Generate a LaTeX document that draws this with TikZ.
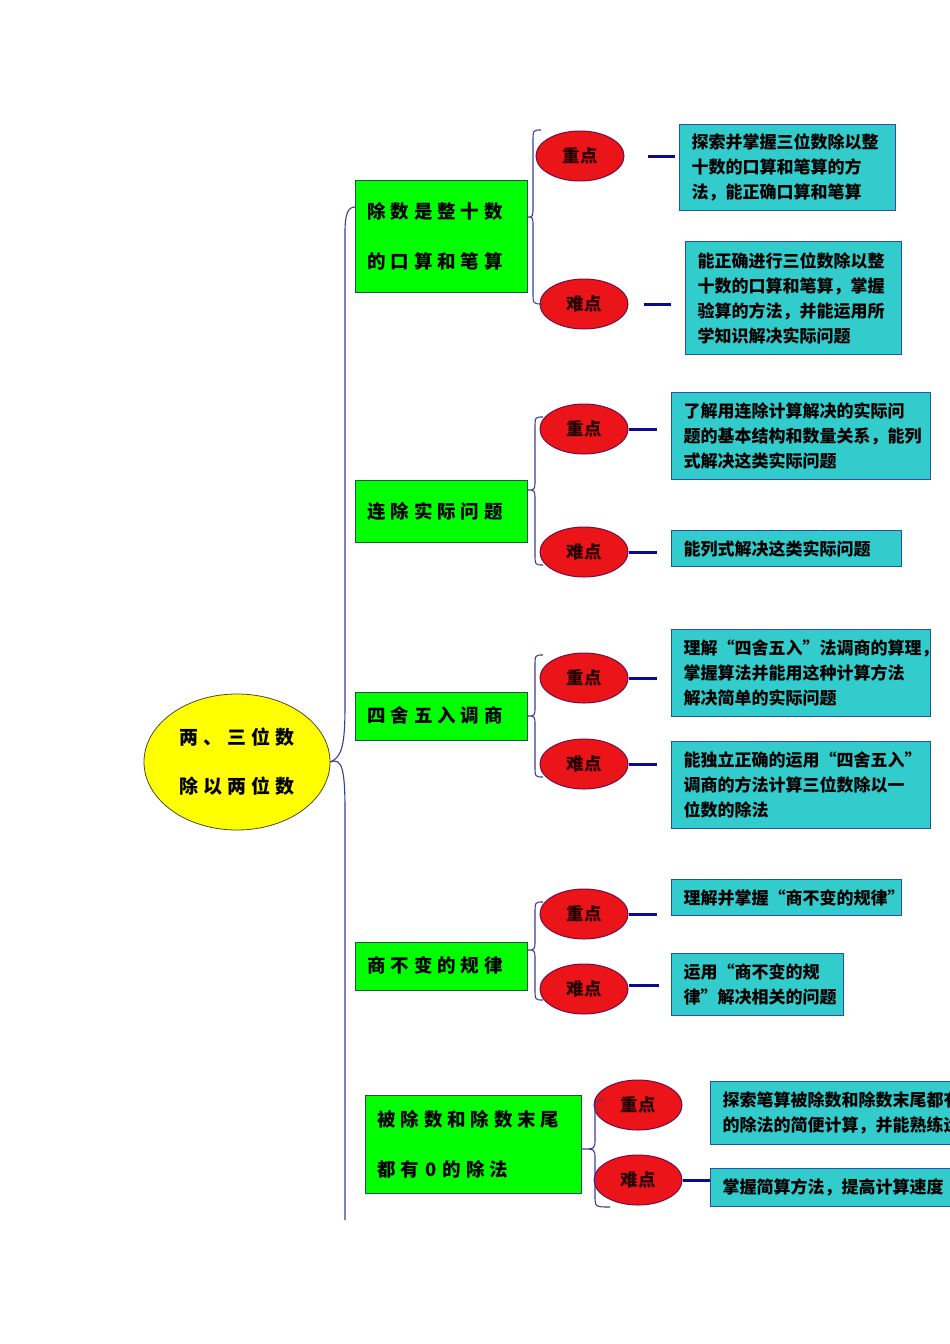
\documentclass[tikz,border=0pt]{standalone}
\usepackage{fontspec}
\setmainfont{Noto Sans CJK SC}
\newfontfamily\spaced{Noto Sans CJK SC}[LetterSpace=26]
\usetikzlibrary{shapes.geometric,calc}
\definecolor{cyanbox}{RGB}{51,204,204}
\definecolor{cyanborder}{RGB}{40,80,170}
\definecolor{greenbox}{RGB}{0,255,0}
\definecolor{greenborder}{RGB}{25,85,70}
\definecolor{redfill}{RGB}{235,20,25}
\definecolor{redborder}{RGB}{120,10,70}
\definecolor{rootfill}{RGB}{255,255,0}
\definecolor{linkblue}{RGB}{10,10,150}
\definecolor{bracecol}{RGB}{60,60,150}
\newcommand\brc[4]{% #1 top, #2 tip, #3 bottom, #4 vertical-x coordinate
  \draw[bracestyle] (#1) .. controls (#1 -| #4) .. ($(#1 -| #4)+(0,12)$)
    -- ($(#2 -| #4)+(0,-10)$) .. controls (#2 -| #4) .. (#2)
    .. controls (#2 -| #4) .. ($(#2 -| #4)+(0,10)$)
    -- ($(#3 -| #4)+(0,-12)$) .. controls (#3 -| #4) .. (#3);}
\begin{document}
\begin{tikzpicture}[x=1pt,y=-1pt,
  rootnode/.style={ellipse, draw=black!60!olive, line width=0.8pt, fill=rootfill,
    minimum width=186pt, minimum height=136pt, inner sep=0pt, align=center,
    font=\spaced\fontsize{19}{49}\selectfont\bfseries},
  gbox/.style={rectangle, draw=greenborder, line width=1pt, fill=greenbox, anchor=north west,
    inner xsep=12pt, inner ysep=0pt, align=left,
    font=\spaced\fontsize{18.5}{50}\selectfont\bfseries},
  ell/.style={ellipse, draw=redborder, line width=1pt, fill=redfill, minimum width=88pt,
    minimum height=50pt, inner sep=0pt, text=black!85!red,
    font=\fontsize{17.5}{20}\selectfont\bfseries},
  cbox/.style={rectangle, draw=cyanborder, line width=1.2pt, fill=cyanbox, anchor=north west,
    inner xsep=12pt, inner ysep=0pt, align=left,
    font=\fontsize{17}{25}\selectfont\bfseries},
  link/.style={draw=linkblue, line width=3pt},
  bracestyle/.style={draw=bracecol, line width=1.1pt}]
\clip (0,0) rectangle (950,1344);
\fill[white] (0,0) rectangle (950,1344);

% root
\node[rootnode] (root) at (237,762) {两、三位数\\除以两位数};

% green boxes
\node[gbox, minimum width=172pt, minimum height=112pt, text width=148pt] (g1) at (355,180) {除数是整十数\\的口算和笔算};
\node[gbox, minimum width=172pt, minimum height=62pt, text width=148pt] (g2) at (355,480) {连除实际问题};
\node[gbox, minimum width=172pt, minimum height=48pt, text width=148pt, text depth=4pt] (g3) at (355,692) {四舍五入调商};
\node[gbox, minimum width=172pt, minimum height=48pt, text width=148pt, text depth=4pt] (g4) at (355,942) {商不变的规律};
\node[gbox, minimum width=216pt, minimum height=98pt, text width=192pt] (g5) at (365,1095) {被除数和除数末尾\\都有 0 的除法};

% red ellipses
\node[ell] (e1a) at (580,156) {重点};
\node[ell] (e1b) at (584,304) {难点};
\node[ell] (e2a) at (584,429) {重点};
\node[ell] (e2b) at (584,552) {难点};
\node[ell] (e3a) at (584,678) {重点};
\node[ell] (e3b) at (584,764) {难点};
\node[ell] (e4a) at (584,914) {重点};
\node[ell] (e4b) at (584,989) {难点};
\node[ell] (e5a) at (638,1105) {重点};
\node[ell] (e5b) at (638,1180) {难点};

% cyan boxes
\node[cbox, minimum width=216pt, minimum height=86pt, text width=192pt] (c1a) at (679,124) {探索并掌握三位数除以整\\十数的口算和笔算的方\\法，能正确口算和笔算};
\node[cbox, minimum width=216pt, minimum height=113pt, text width=192pt] (c1b) at (685,241) {能正确进行三位数除以整\\十数的口算和笔算，掌握\\验算的方法，并能运用所\\学知识解决实际问题};
\node[cbox, minimum width=259pt, minimum height=87pt, text width=235pt] (c2a) at (671,392) {了解用连除计算解决的实际问\\题的基本结构和数量关系，能列\\式解决这类实际问题};
\node[cbox, minimum width=230pt, minimum height=36pt, text width=206pt] (c2b) at (671,530) {能列式解决这类实际问题};
\node[cbox, minimum width=259pt, minimum height=87pt, text width=235pt] (c3a) at (671,629) {理解“四舍五入”法调商的算理，\\掌握算法并能用这种计算方法\\解决简单的实际问题};
\node[cbox, minimum width=259pt, minimum height=87pt, text width=235pt] (c3b) at (671,741) {能独立正确的运用“四舍五入”\\调商的方法计算三位数除以一\\位数的除法};
\node[cbox, minimum width=230pt, minimum height=36pt, text width=206pt] (c4a) at (671,879) {理解并掌握“商不变的规律”};
\node[cbox, minimum width=172pt, minimum height=62pt, text width=148pt] (c4b) at (671,953) {运用“商不变的规\\律”解决相关的问题};
\node[cbox, minimum width=270pt, minimum height=63pt, text width=246pt] (c5a) at (710,1081) {探索笔算被除数和除数末尾都有\\的除法的简便计算，并能熟练运};
\node[cbox, minimum width=270pt, minimum height=38pt, text width=246pt] (c5b) at (710,1168) {掌握简算方法，提高计算速度};

% blue links
\draw[link, shorten <=23pt, shorten >=4pt] (e1a.east) -- (e1a.east -| c1a.west);
\draw[link, shorten <=15pt, shorten >=14pt] (e1b.east) -- (e1b.east -| c1b.west);
\draw[link, shorten >=14pt] (e2a.east) -- (e2a.east -| c2a.west);
\draw[link, shorten >=14pt] (e2b.east) -- (e2b.east -| c2b.west);
\draw[link, shorten >=14pt] (e3a.east) -- (e3a.east -| c3a.west);
\draw[link, shorten >=14pt] (e3b.east) -- (e3b.east -| c3b.west);
\draw[link, shorten >=14pt] (e4a.east) -- (e4a.east -| c4a.west);
\draw[link, shorten >=12pt] ([yshift=4pt]e4b.east) -- ([yshift=4pt]e4b.east -| c4b.west);
\draw[link] (e5b.east) -- (e5b.east -| c5b.west);

% main brace
\coordinate (mtop) at ($(g1.north west)+(0,27)$);
\coordinate (mbot) at (345,1220);
\draw[bracestyle] (root.east) .. controls (342,757) and (345,745) .. (345,705)
  -- (345,232) .. controls (345,214) and (348,207) .. (mtop);
\draw[bracestyle] (root.east) .. controls (342,757) and (345,770) .. (345,810) -- (mbot);

% small braces
\coordinate (v1) at (533,0);
\coordinate (v2) at (535,0);
\coordinate (v5) at (595,0);
\coordinate (t1) at (541,130);  \coordinate (k1) at (527,217);  \coordinate (b1) at (543,304);
\coordinate (t2) at (543,417);  \coordinate (k2) at (527,490);  \coordinate (b2) at (543,565);
\coordinate (t3) at (543,655);  \coordinate (k3) at (527,716);  \coordinate (b3) at (543,777);
\coordinate (t4) at (543,902);  \coordinate (k4) at (527,950);  \coordinate (b4) at (543,1000);
\coordinate (t5) at (603,1100); \coordinate (k5) at (581,1149); \coordinate (b5) at (610,1207);
\brc{t1}{k1}{b1}{v1}
\brc{t2}{k2}{b2}{v2}
\brc{t3}{k3}{b3}{v2}
\brc{t4}{k4}{b4}{v2}
\brc{t5}{k5}{b5}{v5}
\end{tikzpicture}
\end{document}
